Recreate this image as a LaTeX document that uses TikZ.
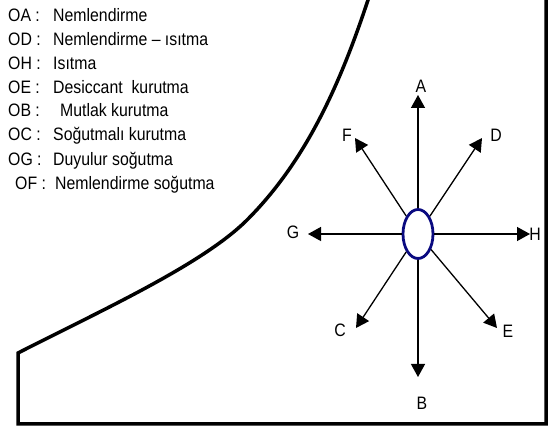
\documentclass[tikz,border=0pt]{standalone}
\usepackage{fontspec}
\setmainfont{Liberation Sans}[FakeStretch=0.88]
\usetikzlibrary{arrows.meta,shapes.geometric,positioning}
\definecolor{ovalblue}{RGB}{10,10,128}
\newcommand{\legkey}[1]{\makebox[45pt][l]{#1}}
\tikzset{
  legendtext/.style={anchor=base west, inner sep=0pt, font=\fontsize{18}{21}\selectfont},
  dirlabel/.style={inner sep=0pt, font=\fontsize{18}{21}\selectfont},
  dirarrow/.style={line width=1.3pt, -{Triangle[length=13pt,width=14pt]}},
  frameline/.style={line width=3.5pt, line join=miter},
}
\begin{document}
\begin{tikzpicture}[x=1pt,y=-1pt]
    \useasboundingbox (0,0) rectangle (560,430);

    % Lejant
    \node[legendtext] (lOA) at (8,22) {\legkey{OA :}Nemlendirme};
    \node[legendtext] (lOD) at (8,46) {\legkey{OD :}Nemlendirme -- ısıtma};
    \node[legendtext] (lOH) at (8,70) {\legkey{OH :}Isıtma};
    \node[legendtext] (lOE) at (8,94) {\legkey{OE :}Desiccant\ \ kurutma};
    \node[legendtext] (lOB) at (8,117) {\legkey{OB :}\hspace{7pt}Mutlak kurutma};
    \node[legendtext] (lOC) at (8,141) {\legkey{OC :}Soğutmalı kurutma};
    \node[legendtext] (lOG) at (8,166) {\legkey{OG :}Duyulur soğutma};
    \node[legendtext] (lOF) at (15,190) {\makebox[40pt][l]{OF :}Nemlendirme soğutma};

    % Doyma egrisi ve cerceve
    \draw[frameline] (369,-3) .. controls (341,82) and (307,160) .. (247,220)
        .. controls (202,265) and (98,312) .. (18,353)
        -- (18,424) -- (546,424) -- (546,-3);

    % Baslangic noktasi O
    \node[draw=ovalblue, line width=2.8pt, ellipse, minimum width=30pt, minimum height=49pt, inner sep=0pt] (O) at (418,234) {};

    % Ok uclari
    \coordinate (tA) at (418,95);
    \coordinate (tD) at (482,138);
    \coordinate (tH) at (530,234);
    \coordinate (tE) at (497,328);
    \coordinate (tB) at (418,377);
    \coordinate (tC) at (356,328);
    \coordinate (tG) at (308,234);
    \coordinate (tF) at (355,138);

    % Yon etiketleri
    \node[dirlabel] (A) at (421,86) {A};
    \node[dirlabel] (D) at (496,135) {D};
    \node[dirlabel] (H) at (535,234) {H};
    \node[dirlabel] (E) at (508,331) {E};
    \node[dirlabel] (B) at (422,403) {B};
    \node[dirlabel] (C) at (340,330) {C};
    \node[dirlabel] (G) at (293,232) {G};
    \node[dirlabel] (F) at (347,135) {F};

    % Prosesler
    \draw[dirarrow] (O) -- (tA);
    \draw[dirarrow] (O) -- (tD);
    \draw[dirarrow] (O) -- (tH);
    \draw[dirarrow] (O) -- (tE);
    \draw[dirarrow] (O) -- (tB);
    \draw[dirarrow] (O) -- (tC);
    \draw[dirarrow] (O) -- (tG);
    \draw[dirarrow] (O) -- (tF);

\end{tikzpicture}
\end{document}
